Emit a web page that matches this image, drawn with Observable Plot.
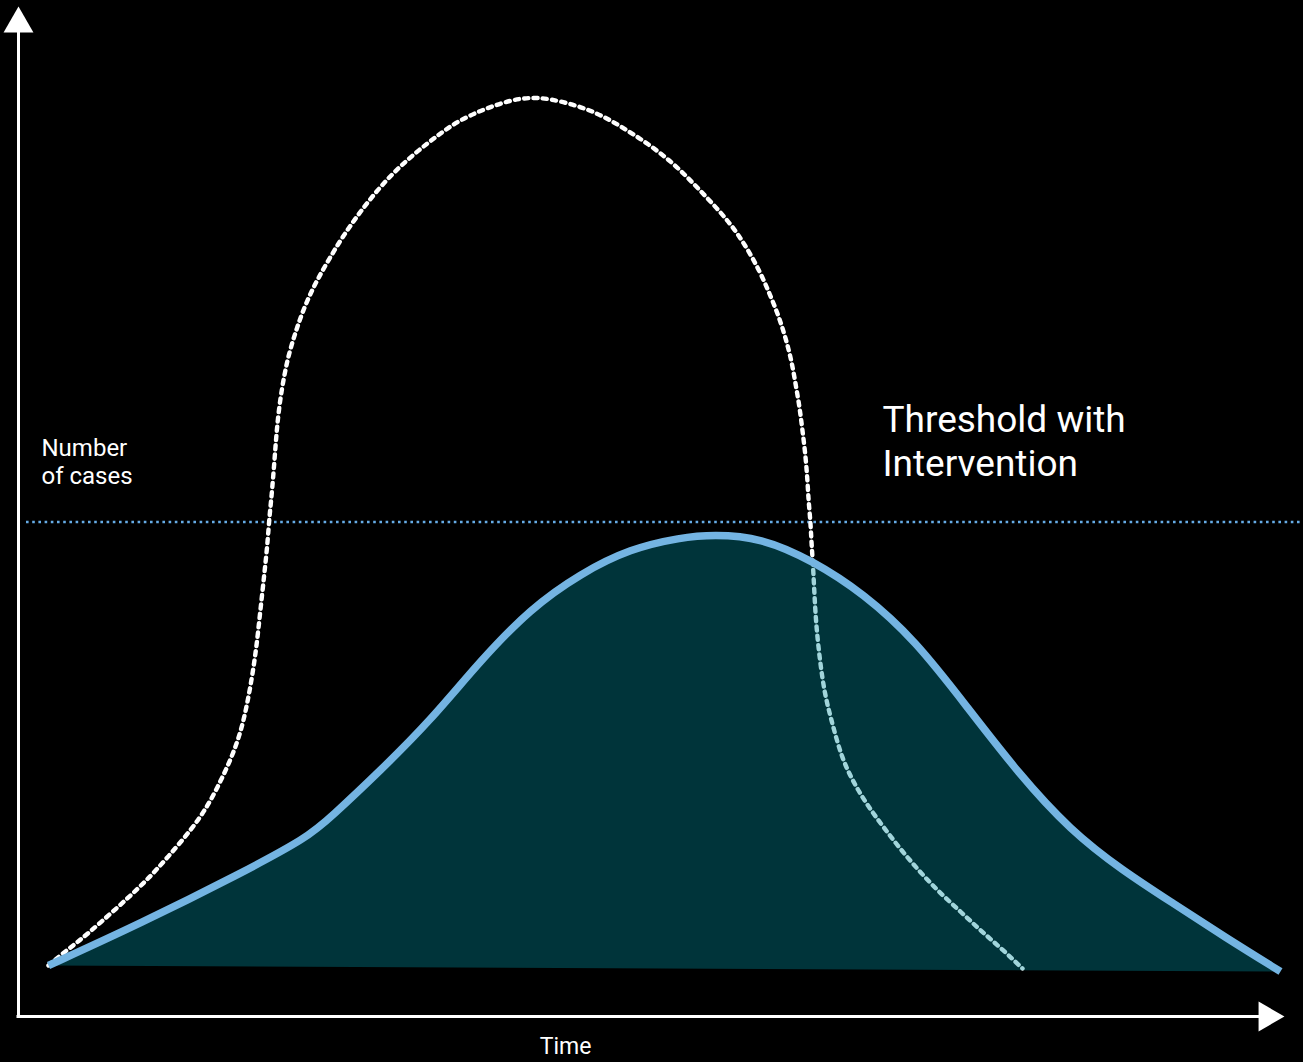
<!DOCTYPE html>
<html>
<head>
<meta charset="utf-8">
<script src="https://cdn.jsdelivr.net/npm/d3@7"></script>
<script src="https://cdn.jsdelivr.net/npm/@observablehq/plot@0.6"></script>
<style>
  html, body { margin: 0; padding: 0; background: #000; }
  #chart svg { display: block; }
</style>
</head>
<body>
<div id="chart"></div>
<script>
// Time (x) and number of cases (y), in arbitrary chart units
const noInterventionTime = [3.0,4.4,6.0,8.1,10.9,13.0,14.9,17.3,18.9,20.2,21.4,22.3,22.9,23.4,23.8,24.1,24.6,24.9,25.1,25.3,25.6,25.8,26.1,26.6,27.1,27.7,28.3,29.1,30.0,31.1,32.3,33.9,35.6,37.5,39.6,41.9,44.0,46.7,49.4,51.3,53.0,55.9,58.4,60.9,63.2,65.5,67.4,69.3,71.2,72.7,74.1,75.1,76.0,76.7,77.3,77.7,78.1,78.4,78.7,78.9,79.0,79.2,79.3,79.5,79.7,80.1,80.6,81.3,82.3,83.5,84.9,86.6,88.3,90.2,92.1,94.2,96.2,98.3,100.4];
const noInterventionCases = [5.1,6.3,7.5,9.3,11.8,13.8,15.9,18.7,21.0,23.5,26.1,28.7,31.4,34.2,37.0,39.8,44.4,47.3,50.1,51.9,55.6,58.4,61.3,64.3,66.5,68.4,70.2,72.1,73.9,75.8,77.8,80.1,82.3,84.4,86.3,88.1,89.6,90.8,91.7,91.9,91.8,91.1,90.1,88.6,87.1,85.3,83.4,81.4,79.3,77.1,74.6,72.3,70.1,67.9,65.6,63.3,61.0,58.6,56.1,53.6,51.6,49.5,47.3,44.4,39.8,35.9,32.3,29.6,25.9,23.4,21.1,18.8,16.6,14.4,12.4,10.5,8.6,6.8,4.8];

const interventionTime = [3.0,12.2,22.2,28.9,31.2,36.2,41.2,46.2,51.2,56.2,61.2,66.2,69.5,74.2,79.4,84.5,89.7,94.9,100.0,105.2,110.4,115.5,120.7,126.2];
const interventionCases = [5.1,9.3,14.3,17.9,19.9,24.6,29.6,35.6,40.8,44.3,46.8,47.9,48.2,47.9,45.6,42.3,37.6,30.9,24.3,18.6,14.6,11.3,7.9,4.5];

const thresholdCases = 49.45;
const thresholdSpan = [0.8, 128.5];

const xAxisEnd = 124.5;   // where the time axis line ends (arrow head begins)
const yAxisEnd = 98.5;
const arrowTips = [{x: 124.87, y: 0, rotate: 90}, {x: 0, y: 99.27, rotate: 0}];

const labelTexts = ["Number\nof cases", "Threshold with\nIntervention", "Time"];
const labelX = [2.3, 86.4, 54.7];
const labelY = [58.0, 61.6, -2.1];

const noIntervention = noInterventionTime.map((t, i) => ({t, c: noInterventionCases[i]}));
const intervention = interventionTime.map((t, i) => ({t, c: interventionCases[i]}));

const chart = Plot.plot({
  width: 1303,
  height: 1062,
  marginLeft: 18,
  marginRight: 19,
  marginTop: 6,
  marginBottom: 46,
  x: {domain: [0, 126.6], axis: null},
  y: {domain: [0, 101], axis: null},
  style: {background: "#000", color: "#fff", fontFamily: "Roboto, sans-serif"},
  marks: [
    Plot.ruleY([thresholdCases], {x1: thresholdSpan[0], x2: thresholdSpan[1], stroke: "#66ace6", strokeWidth: 2.6, strokeDasharray: "2.6 3.6"}),
    Plot.line(noIntervention, {x: "t", y: "c", stroke: "#fff", strokeWidth: 4.4, strokeDasharray: "4.2 5.2", curve: "basis"}),
    Plot.line(intervention, {x: "t", y: "c", fill: "#008c9c", fillOpacity: 0.37, stroke: "none", curve: "basis"}),
    Plot.line(intervention, {x: "t", y: "c", stroke: "#74b4e2", strokeWidth: 7.5, curve: "basis", strokeLinecap: "butt"}),
    Plot.ruleY([0], {x1: -0.15, x2: xAxisEnd, stroke: "#fff", strokeWidth: 3}),
    Plot.ruleX([0], {y1: -0.15, y2: yAxisEnd, stroke: "#fff", strokeWidth: 3}),
    Plot.dot(arrowTips, {x: "x", y: "y", rotate: "rotate", symbol: "triangle", r: 11.1, fill: "#fff", stroke: "none"}),
    Plot.text([0], {x: labelX[0], y: labelY[0], text: [labelTexts[0]], textAnchor: "start", lineAnchor: "top", fontSize: 24, lineHeight: 1.15, fill: "#fff"}),
    Plot.text([0], {x: labelX[1], y: labelY[1], text: [labelTexts[1]], textAnchor: "start", lineAnchor: "top", fontSize: 37, lineHeight: 1.19, fill: "#fff"}),
    Plot.text([0], {x: labelX[2], y: labelY[2], text: [labelTexts[2]], textAnchor: "middle", lineAnchor: "top", fontSize: 23, fill: "#fff"})
  ]
});
document.getElementById("chart").appendChild(chart);
</script>
</body>
</html>
